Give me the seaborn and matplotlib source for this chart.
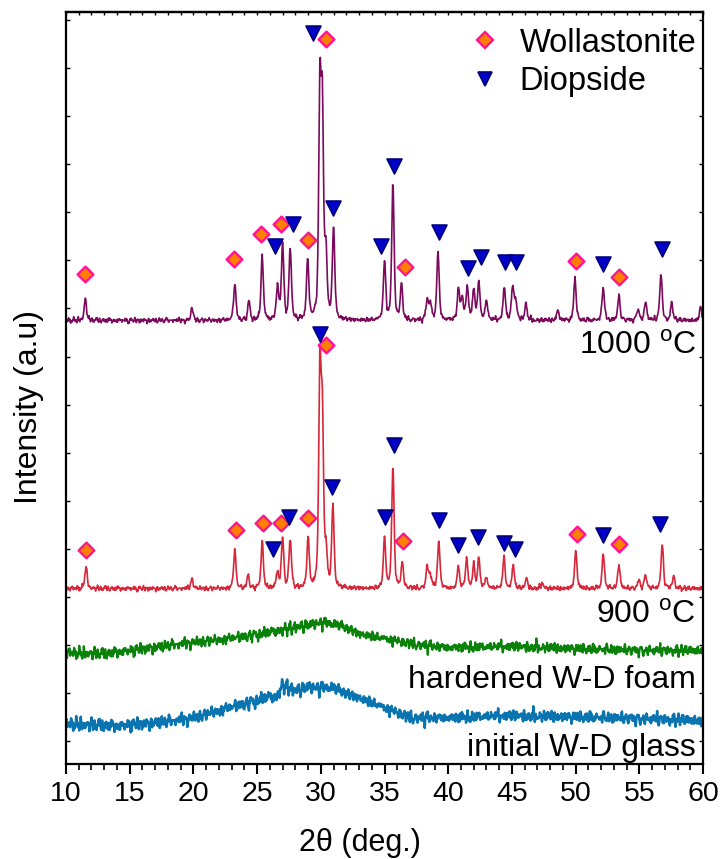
import numpy as np
import pandas as pd
import matplotlib
matplotlib.use("Agg")
import matplotlib.pyplot as plt
from matplotlib.lines import Line2D
from matplotlib.ticker import MultipleLocator, NullFormatter
import seaborn as sns

# ---------------- data ----------------
# 2-theta scan range (deg.)
TWO_THETA_MIN, TWO_THETA_MAX, STEP = 10.0, 60.0, 0.04

# 1000 C pattern: background level and reflections (position, height)
BG_1000 = 8.75
PK_1000_POS = [11.52, 19.9, 23.25, 24.36, 25.4, 26.6, 27.0, 27.6, 28.97, 29.93, 30.12,
               30.4, 31.0, 35.0, 35.66, 36.33, 38.35, 38.6, 39.2, 40.8, 41.1, 41.5,
               42.0, 42.4, 43.0, 44.4, 45.06, 45.3, 46.1, 48.6, 49.95, 52.17, 53.4,
               54.9, 55.5, 56.7, 57.55, 59.8]
PK_1000_H = [0.44, 0.25, 0.77, 0.38, 1.33, 0.69, 1.58, 1.50, 1.23, 4.55, 4.10,
             1.30, 1.90, 1.21, 2.83, 0.73, 0.42, 0.35, 1.42, 0.63, 0.46, 0.71,
             0.63, 0.81, 0.42, 0.69, 0.71, 0.38, 0.35, 0.21, 0.88, 0.69, 0.50,
             0.25, 0.38, 0.98, 0.35, 0.25]

# 900 C pattern
BG_900 = 3.17
PK_900_POS = [11.57, 19.9, 23.25, 24.3, 25.4, 26.6, 27.0, 27.6, 29.0, 29.93, 30.12,
              30.4, 30.95, 35.0, 35.66, 36.4, 38.35, 38.6, 39.26, 40.8, 41.44, 42.0,
              42.4, 43.0, 44.38, 45.1, 46.14, 47.4, 50.02, 52.17, 53.4, 54.97, 55.5,
              56.8, 57.7]
PK_900_H = [0.46, 0.21, 0.81, 0.27, 0.98, 0.33, 1.06, 1.04, 1.04, 4.40, 3.30,
            0.70, 1.69, 1.04, 2.56, 0.52, 0.44, 0.29, 1.00, 0.44, 0.60, 0.48,
            0.63, 0.23, 0.63, 0.48, 0.21, 0.12, 0.79, 0.71, 0.50, 0.17, 0.29,
            0.92, 0.25]

# amorphous patterns: background level at selected angles
FOAM_ANGLE = [10, 13, 15, 18, 20, 22, 24, 26, 28, 30, 31.5, 33, 35, 37, 40, 45, 50, 55, 60]
FOAM_LEVEL = [1.83, 1.81, 1.88, 1.98, 2.05, 2.10, 2.17, 2.26, 2.36, 2.46, 2.40, 2.23,
              2.13, 2.02, 1.94, 1.96, 1.92, 1.88, 1.88]
GLASS_ANGLE = [10, 14, 18, 20, 22, 24, 26, 26.5, 27, 28, 29, 30, 31, 32, 33, 35, 37,
               40, 45, 50, 55, 60]
GLASS_LEVEL = [0.35, 0.31, 0.40, 0.48, 0.63, 0.77, 0.92, 0.90, 1.15, 1.04, 1.12, 1.10,
               1.10, 0.98, 0.90, 0.69, 0.48, 0.48, 0.52, 0.50, 0.46, 0.42]

# counting-statistics ripple added to the measured traces
RIPPLE_A = [0.3, -0.5, 0.8, -0.2, -0.9, 0.4, 0.1, -0.6, 0.9, -0.3, 0.2, -0.8, 0.6,
            -0.1, -0.4, 0.7, -0.7, 0.5, 0.0, -0.5, 0.9, -0.2, 0.3, -0.9, 0.4, -0.3,
            0.6, -0.6, 0.1, 0.8, -0.4, -0.1, 0.5, -0.8, 0.2, 0.7, -0.5]
RIPPLE_B = [-0.4, 0.6, 0.1, -0.7, 0.3, 0.9, -0.2, -0.5, 0.4, -0.9, 0.7, 0.0, -0.3,
            0.5, -0.6, 0.8, -0.1, 0.2, -0.8, 0.4, 0.6, -0.4, 0.1]

# phase markers
W1000_X = [11.52, 23.17, 25.30, 26.85, 28.98, 30.39, 36.64, 50.02, 53.39]
W1000_Y = [9.72, 10.03, 10.54, 10.76, 10.43, 14.60, 9.86, 9.99, 9.65]
D1000_X = [26.40, 27.84, 29.37, 30.92, 34.75, 35.72, 39.26, 41.54, 42.55, 44.43, 45.35, 52.12, 56.80]
D1000_Y = [10.31, 10.76, 14.74, 11.10, 10.31, 11.96, 10.59, 9.84, 10.08, 9.96, 9.96, 9.93, 10.24]
W900_X = [11.57, 23.31, 25.48, 26.85, 28.98, 30.39, 36.43, 50.08, 53.43]
W900_Y = [3.98, 4.40, 4.54, 4.54, 4.64, 8.23, 4.17, 4.30, 4.10]
D900_X = [26.27, 27.50, 29.95, 30.91, 35.01, 35.72, 39.26, 40.79, 42.33, 44.38, 45.22, 52.13, 56.66]
D900_Y = [3.99, 4.67, 8.47, 5.29, 4.65, 6.15, 4.60, 4.08, 4.25, 4.11, 3.99, 4.29, 4.51]

X_TICKS = [10, 15, 20, 25, 30, 35, 40, 45, 50, 55, 60]
LABELS = ["1000 $^{\\rm o}$C", "900 $^{\\rm o}$C", "hardened W-D foam", "initial W-D glass"]
COLORS = ["#7b0a5c", "#d6283a", "#0a820a", "#0a74b0"]

# ---------------- build traces ----------------
tt = np.arange(TWO_THETA_MIN, TWO_THETA_MAX + STEP / 2, STEP)
n = tt.size
# ripple defined every third scan point, spread over the points in between
coarse_idx = np.arange(0, n + 3, 3)
coarse = 0.6 * np.resize(RIPPLE_A, coarse_idx.size) + 0.4 * np.resize(RIPPLE_B, coarse_idx.size)
ripple = np.interp(np.arange(n), coarse_idx, coarse)
ripple_fine = 0.6 * np.resize(RIPPLE_B, n) + 0.4 * np.resize(RIPPLE_A, n)
noise = 0.75 * ripple + 0.5 * ripple_fine


def reflections(pos, h, fwhm=0.22, eta=0.5):
    out = np.zeros_like(tt)
    for p, a in zip(pos, h):
        d = (tt - p) / (fwhm / 2)
        out += a * (eta / (1 + d ** 2) + (1 - eta) * np.exp(-np.log(2) * d ** 2))
    return out


y1000 = BG_1000 + reflections(PK_1000_POS, PK_1000_H) + 0.09 * noise
y900 = BG_900 + reflections(PK_900_POS, PK_900_H) + 0.09 * np.roll(noise, 17)
yfoam = np.interp(tt, FOAM_ANGLE, FOAM_LEVEL) + 0.19 * np.roll(noise, 11)
yglass = np.interp(tt, GLASS_ANGLE, GLASS_LEVEL) + 0.21 * np.roll(noise, 5)

df = pd.concat([
    pd.DataFrame({"tt": tt, "I": y, "sample": s})
    for y, s in zip([y1000, y900, yfoam, yglass], ["1000", "900", "foam", "glass"])
])

# ---------------- plot ----------------
sns.set_theme(style="ticks")
plt.rcParams["font.family"] = ["Liberation Sans", "DejaVu Sans"]
plt.rcParams["mathtext.fontset"] = "custom"
plt.rcParams["mathtext.rm"] = "Liberation Sans"
for key in ["text.color", "axes.labelcolor", "xtick.color", "ytick.color", "axes.edgecolor"]:
    plt.rcParams[key] = "black"

fig = plt.figure(figsize=(7.21, 8.59), dpi=100)
ax = fig.add_axes([66 / 721, 1 - 764 / 859, 637 / 721, 752 / 859])

widths = {"1000": 1.2, "900": 1.2, "foam": 1.6, "glass": 1.8}
for (s, c) in zip(["glass", "foam", "900", "1000"], COLORS[::-1]):
    sns.lineplot(data=df[df["sample"] == s], x="tt", y="I", color=c,
                 lw=widths[s], estimator=None, ax=ax, legend=False)

w_style = dict(marker="D", s=64, color="#ff8000", edgecolor="#ff1493", linewidth=1.7, zorder=5)
d_style = dict(marker="v", s=115, color="#0000c8", edgecolor="#00007a", linewidth=1.2, zorder=5)
sns.scatterplot(x=W1000_X, y=W1000_Y, ax=ax, **w_style)
sns.scatterplot(x=W900_X, y=W900_Y, ax=ax, **w_style)
sns.scatterplot(x=D1000_X, y=D1000_Y, ax=ax, **d_style)
sns.scatterplot(x=D900_X, y=D900_Y, ax=ax, **d_style)

ax.set_xlim(TWO_THETA_MIN, TWO_THETA_MAX)
ax.set_ylim(-0.48, 15.17)
ax.set_xticks(X_TICKS)
ax.xaxis.set_minor_locator(MultipleLocator(1))
ax.set_yticks(np.arange(0, 16))
ax.yaxis.set_major_formatter(NullFormatter())
ax.tick_params(axis="x", which="major", direction="out", length=7, width=1.5,
               labelsize=20.5, pad=5)
ax.tick_params(axis="x", which="minor", direction="out", length=4, width=1.2)
ax.tick_params(axis="y", which="major", direction="in", length=3, width=1.0, left=True, right=True)
for sp in ax.spines.values():
    sp.set_linewidth(1.6)

top = ax.secondary_xaxis("top")
top.set_xticks(np.arange(10, 61, 1))
top.tick_params(direction="in", length=2.5, width=1.0, labeltop=False)
top.spines["top"].set_linewidth(1.6)

ax.set_xlabel("2\u03b8 (deg.)", fontsize=22)
ax.xaxis.set_label_coords(0.4615, -0.085)
ax.set_ylabel("Intensity (a.u)", fontsize=23)
ax.yaxis.set_label_coords(-0.035, 0.475)

text_y = [8.06, 2.46, 1.10, -0.31]
for lab, yy in zip(LABELS, text_y):
    ax.text(59.47, yy, lab, ha="right", va="baseline", fontsize=23)

handles = [
    Line2D([], [], ls="none", marker="D", ms=8, mfc="#ff8000", mec="#ff1493", mew=1.7),
    Line2D([], [], ls="none", marker="v", ms=10.7, mfc="#0000c8", mec="#00007a", mew=1.2),
]
ax.legend(handles, ["Wollastonite", "Diopside"], loc="upper left",
          bbox_to_anchor=(0.602, 1.005), frameon=False, fontsize=23.5,
          handlelength=1.0, handletextpad=0.55, labelspacing=0.22, borderaxespad=0.2)

fig.savefig("out.png", dpi=100)
